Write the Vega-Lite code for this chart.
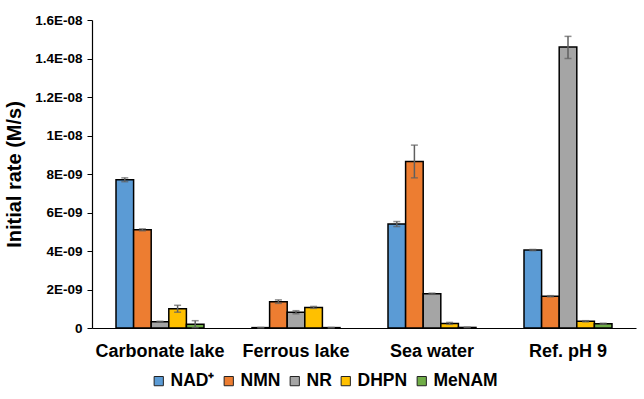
{
  "$schema": "https://vega.github.io/schema/vega-lite/v6.json",
  "width": 544,
  "height": 308,
  "autosize": {"type": "none"},
  "padding": {"left": 92, "top": 20, "right": 8, "bottom": 71},
  "background": "white",
  "config": {
    "view": {"stroke": null},
    "font": "Liberation Sans",
    "axis": {"labelFont": "Liberation Sans", "titleFont": "Liberation Sans"},
    "axisY": {
      "titleFontSize": 20,
      "titleFontWeight": "bold",
      "titleColor": "black",
      "titlePadding": 10,
      "labelOverlap": false,
      "labelFontSize": 13.5,
      "labelFontWeight": "bold",
      "labelColor": "black",
      "labelPadding": 5,
      "grid": false,
      "tickSize": 5,
      "tickColor": "black",
      "domainColor": "black",
      "domainWidth": 1.2
    },
    "legend": {"labelFont": "Liberation Sans"}
  },
  "data": {
    "values": [
      {"group": "Carbonate lake", "series": "NAD⁺", "value": 7.7e-9, "lo": 7.6e-9, "hi": 7.8e-9},
      {"group": "Carbonate lake", "series": "NMN", "value": 5.1e-9, "lo": 5.05e-9, "hi": 5.15e-9},
      {"group": "Carbonate lake", "series": "NR", "value": 0.33e-9, "lo": 0.31e-9, "hi": 0.35e-9},
      {"group": "Carbonate lake", "series": "DHPN", "value": 1.0e-9, "lo": 0.82e-9, "hi": 1.18e-9},
      {"group": "Carbonate lake", "series": "MeNAM", "value": 0.2e-9, "lo": 0.02e-9, "hi": 0.38e-9},
      {"group": "Ferrous lake", "series": "NAD⁺", "value": 0.02e-9, "lo": 0.01e-9, "hi": 0.03e-9},
      {"group": "Ferrous lake", "series": "NMN", "value": 1.37e-9, "lo": 1.28e-9, "hi": 1.46e-9},
      {"group": "Ferrous lake", "series": "NR", "value": 0.82e-9, "lo": 0.74e-9, "hi": 0.9e-9},
      {"group": "Ferrous lake", "series": "DHPN", "value": 1.07e-9, "lo": 1.02e-9, "hi": 1.12e-9},
      {"group": "Ferrous lake", "series": "MeNAM", "value": 0.02e-9, "lo": 0.01e-9, "hi": 0.03e-9},
      {"group": "Sea water", "series": "NAD⁺", "value": 5.4e-9, "lo": 5.27e-9, "hi": 5.53e-9},
      {"group": "Sea water", "series": "NMN", "value": 8.65e-9, "lo": 7.8e-9, "hi": 9.5e-9},
      {"group": "Sea water", "series": "NR", "value": 1.78e-9, "lo": 1.75e-9, "hi": 1.81e-9},
      {"group": "Sea water", "series": "DHPN", "value": 0.24e-9, "lo": 0.19e-9, "hi": 0.29e-9},
      {"group": "Sea water", "series": "MeNAM", "value": 0.03e-9, "lo": 0.02e-9, "hi": 0.04e-9},
      {"group": "Ref. pH 9", "series": "NAD⁺", "value": 4.05e-9, "lo": 4.02e-9, "hi": 4.08e-9},
      {"group": "Ref. pH 9", "series": "NMN", "value": 1.65e-9, "lo": 1.62e-9, "hi": 1.68e-9},
      {"group": "Ref. pH 9", "series": "NR", "value": 14.6e-9, "lo": 14.0e-9, "hi": 15.15e-9},
      {"group": "Ref. pH 9", "series": "DHPN", "value": 0.35e-9, "lo": 0.32e-9, "hi": 0.38e-9},
      {"group": "Ref. pH 9", "series": "MeNAM", "value": 0.22e-9, "lo": 0.19e-9, "hi": 0.25e-9}
    ]
  },
  "encoding": {
    "x": {
      "field": "group",
      "type": "nominal",
      "sort": ["Carbonate lake", "Ferrous lake", "Sea water", "Ref. pH 9"],
      "scale": {"paddingInner": 0.353, "paddingOuter": 0.1765},
      "axis": {
        "title": null,
        "labelAngle": 0,
        "labelFontSize": 18,
        "labelFontWeight": "bold",
        "labelColor": "black",
        "labelPadding": 14,
        "ticks": false,
        "domainColor": "black",
        "domainWidth": 1.2
      }
    },
    "xOffset": {
      "field": "series",
      "type": "nominal",
      "sort": ["NAD⁺", "NMN", "NR", "DHPN", "MeNAM"],
      "scale": {"paddingInner": 0, "paddingOuter": 0}
    }
  },
  "layer": [
    {
      "mark": {"type": "bar", "stroke": "black", "strokeWidth": 1.5},
      "encoding": {
        "y": {
          "field": "value",
          "type": "quantitative",
          "scale": {"domain": [0, 1.6e-8], "nice": false},
          "axis": {
            "title": "Initial rate (M/s)",
            "values": [0, 2e-9, 4e-9, 6e-9, 8e-9, 1e-8, 1.2e-8, 1.4e-8, 1.6e-8],
            "labelExpr": "datum.value == 0 ? '0' : replace(replace(format(datum.value, '.1~e'), 'e-', 'E-0'), 'E-010', 'E-10')"
          }
        },
        "color": {
          "field": "series",
          "type": "nominal",
          "scale": {
            "domain": ["NAD⁺", "NMN", "NR", "DHPN", "MeNAM"],
            "range": ["#5B9BD5", "#ED7D31", "#A5A5A5", "#FFC000", "#70AD47"]
          },
          "legend": {
            "title": null,
            "orient": "none",
            "legendX": 58,
            "legendY": 352,
            "direction": "horizontal",
            "symbolType": "square",
            "symbolSize": 85,
            "symbolStrokeColor": "#222",
            "symbolStrokeWidth": 1,
            "labelFontSize": 17.5,
            "labelFontWeight": "bold",
            "labelColor": "black",
            "columnPadding": 5,
            "labelOffset": 3
          }
        }
      }
    },
    {
      "mark": {"type": "rule", "color": "#5f5f5f", "strokeWidth": 1.5},
      "encoding": {
        "y": {
          "field": "lo",
          "type": "quantitative",
          "axis": {
            "title": "Initial rate (M/s)",
            "values": [0, 2e-9, 4e-9, 6e-9, 8e-9, 1e-8, 1.2e-8, 1.4e-8, 1.6e-8],
            "labelExpr": "datum.value == 0 ? '0' : replace(replace(format(datum.value, '.1~e'), 'e-', 'E-0'), 'E-010', 'E-10')"
          }
        },
        "y2": {"field": "hi"}
      }
    },
    {
      "mark": {"type": "tick", "color": "#5f5f5f", "size": 7, "thickness": 1.5, "orient": "horizontal"},
      "encoding": {
        "y": {
          "field": "lo",
          "type": "quantitative",
          "axis": {
            "title": "Initial rate (M/s)",
            "values": [0, 2e-9, 4e-9, 6e-9, 8e-9, 1e-8, 1.2e-8, 1.4e-8, 1.6e-8],
            "labelExpr": "datum.value == 0 ? '0' : replace(replace(format(datum.value, '.1~e'), 'e-', 'E-0'), 'E-010', 'E-10')"
          }
        }
      }
    },
    {
      "mark": {"type": "tick", "color": "#5f5f5f", "size": 7, "thickness": 1.5, "orient": "horizontal"},
      "encoding": {
        "y": {
          "field": "hi",
          "type": "quantitative",
          "axis": {
            "title": "Initial rate (M/s)",
            "values": [0, 2e-9, 4e-9, 6e-9, 8e-9, 1e-8, 1.2e-8, 1.4e-8, 1.6e-8],
            "labelExpr": "datum.value == 0 ? '0' : replace(replace(format(datum.value, '.1~e'), 'e-', 'E-0'), 'E-010', 'E-10')"
          }
        }
      }
    }
  ]
}
